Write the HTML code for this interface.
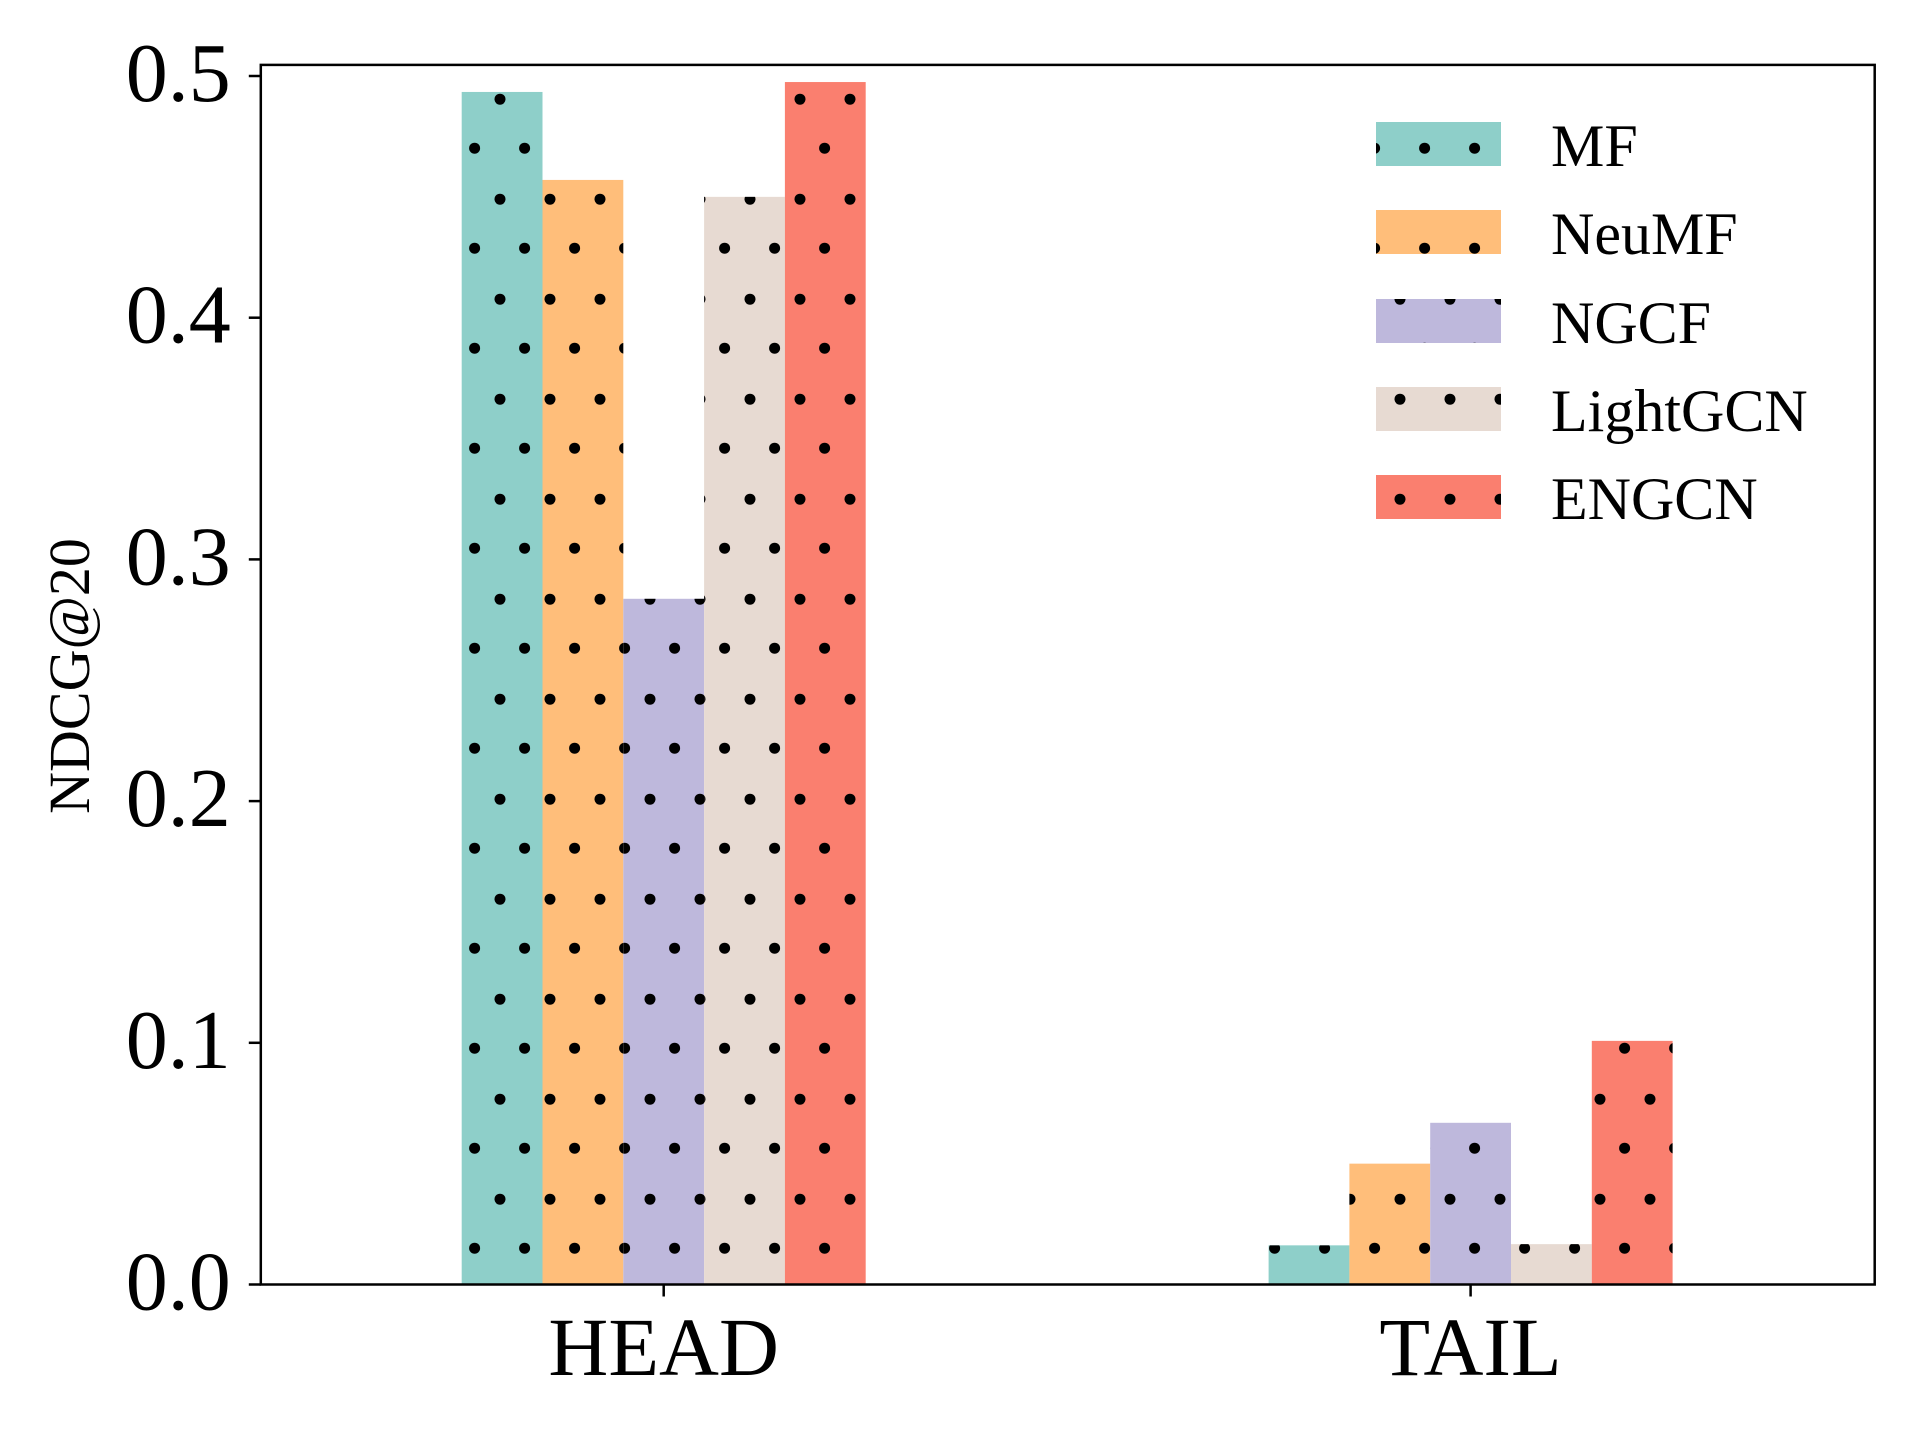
<!DOCTYPE html>
<html><head><meta charset="utf-8"><style>
html,body{margin:0;padding:0;background:#fff;}
svg{display:block;font-family:"Liberation Serif",serif;}
</style></head><body>
<svg id="chart" width="1920" height="1440" viewBox="0 0 1920 1440" xmlns="http://www.w3.org/2000/svg">
<defs>
<pattern id="dots" patternUnits="userSpaceOnUse" x="0" y="0" width="50" height="100">
<circle cx="0" cy="99.2" r="5.5" fill="#000"/><circle cx="50" cy="99.2" r="5.5" fill="#000"/>
<circle cx="0" cy="-0.8" r="5.5" fill="#000"/><circle cx="50" cy="-0.8" r="5.5" fill="#000"/>
<circle cx="24.6" cy="48.2" r="5.5" fill="#000"/>
</pattern>
</defs>
<g id="plot"></g>
</svg>
<script>
const categories = ["HEAD", "TAIL"];
const seriesNames = ["MF", "NeuMF", "NGCF", "LightGCN", "ENGCN"];
const seriesColors = ["#8ecfc9", "#ffbe7a", "#beb8dc", "#e7dad2", "#fa7f6f"];
const valuesMF = [0.4934, 0.0162];
const valuesNeuMF = [0.457, 0.050];
const valuesNGCF = [0.2837, 0.0669];
const valuesLightGCN = [0.450, 0.0167];
const valuesENGCN = [0.4975, 0.1008];
const yTicks = [0.0, 0.1, 0.2, 0.3, 0.4, 0.5];
const yTickLabels = ["0.0", "0.1", "0.2", "0.3", "0.4", "0.5"];

const series = [valuesMF, valuesNeuMF, valuesNGCF, valuesLightGCN, valuesENGCN];
const NS = "http://www.w3.org/2000/svg";
const L = 260.8, R = 1874.7, T = 64.9, B = 1284.5;
const y0 = 1284.5, yPer = 2417;
function yScale(v){ return y0 - v * yPer; }
const catCenters = [663.7, 1470.6];
function xScale(ci){ return catCenters[ci]; }
const barW = 80.8;
const g = document.getElementById('plot');
function mk(tag, attrs, parent){ const e = document.createElementNS(NS, tag); for (const k in attrs) e.setAttribute(k, attrs[k]); (parent||g).appendChild(e); return e; }

series.forEach((vals, si) => {
  vals.forEach((v, ci) => {
    const x = xScale(ci) + (si - 2.5) * barW;
    const y = yScale(v), h = y0 - y;
    const bg = mk('rect', {x:x, y:y, width:barW, height:h, fill:seriesColors[si]});
    
    
    const ht = mk('rect', {x:x, y:y, width:barW, height:h, fill:'url(#dots)'});
    
    
  });
});

const frame = mk('rect', {x:L, y:T, width:R-L, height:B-T, fill:'none', stroke:'#000', 'stroke-width':2.5});



yTicks.forEach((t, i) => {
  const y = yScale(t);
  const tk = mk('line', {x1:L-12, x2:L, y1:y, y2:y, stroke:'#000', 'stroke-width':2.5});
  
  
  const tx = mk('text', {x:L-30, y:y+25, 'text-anchor':'end', 'font-size':84});
  tx.textContent = yTickLabels[i];
  
  
});

categories.forEach((c, ci) => {
  const x = xScale(ci);
  const tk = mk('line', {x1:x, x2:x, y1:B, y2:B+12, stroke:'#000', 'stroke-width':2.5});
  
  
  const tx = mk('text', {x:x, y:1375, 'text-anchor':'middle', 'font-size':83});
  tx.textContent = c;
  
  
});

const yt = mk('text', {x:0, y:0, 'text-anchor':'middle', 'font-size':58, transform:'translate(89,676) rotate(-90)'});
yt.textContent = 'NDCG@20';



const legTops = [122, 210, 299, 387, 475];
seriesNames.forEach((n, si) => {
  const y = legTops[si];
  const p = mk('rect', {x:1376, y:y, width:125, height:44, fill:seriesColors[si]});
  
  
  const ph = mk('rect', {x:1376, y:y, width:125, height:44, fill:'url(#dots)'});
  
  
  const tx = mk('text', {x:1551, y:y+44, 'font-size':60});
  tx.textContent = n;
  
  
});
</script>
</body></html>
